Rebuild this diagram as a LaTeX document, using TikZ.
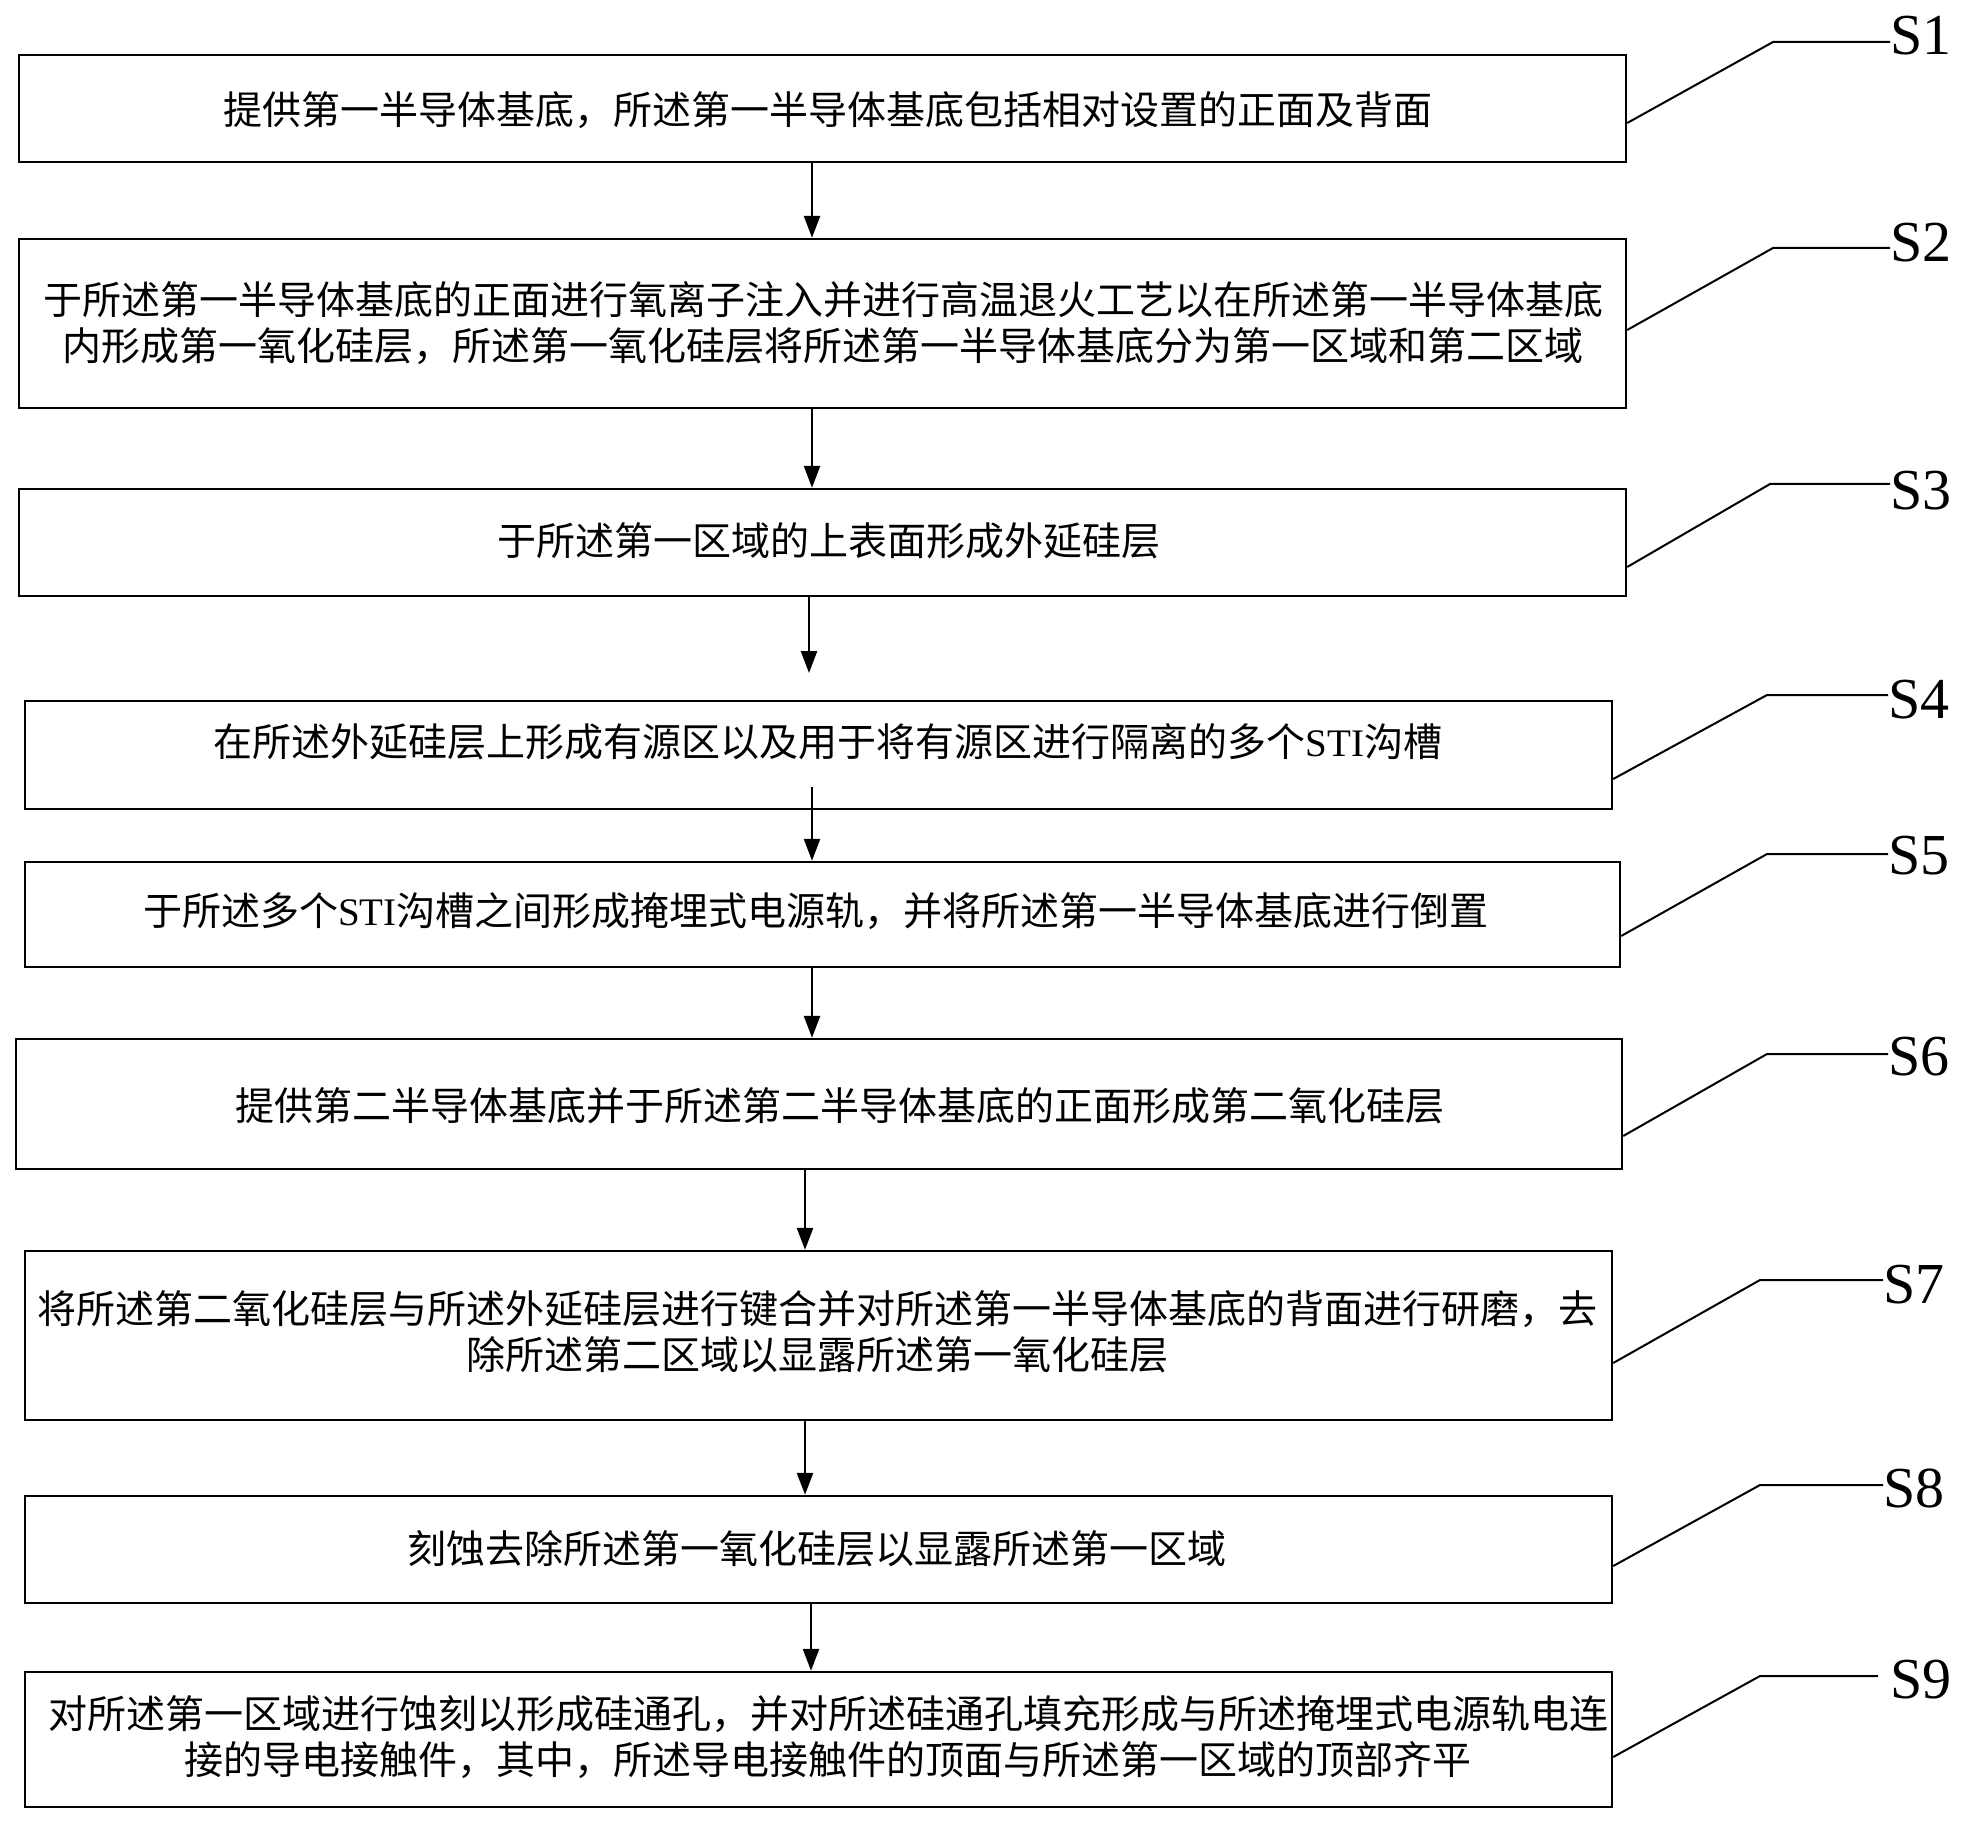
\documentclass[tikz,border=0pt]{standalone}
\usepackage{fontspec}
\setmainfont{Liberation Serif}
\newfontfamily\cjkfont{Noto Sans CJK SC}
\usetikzlibrary{arrows.meta}
\begin{document}
\begin{tikzpicture}[x=0.5pt,y=-0.5pt,
  box/.style={draw=black, line width=1.2pt, rectangle, inner sep=0pt},
  txt/.style={font=\cjkfont\fontsize{19.5pt}{23pt}\selectfont, align=center, inner sep=0pt},
  lab/.style={font=\fontsize{29pt}{29pt}\selectfont, inner sep=0pt, anchor=base west},
  lead/.style={line width=1pt},
  arr/.style={line width=1.3pt, -{Triangle[length=11pt,width=8pt]}}]
\useasboundingbox (0,0) rectangle (1968,1823);

% boxes
\node[box, minimum width=803.5pt, minimum height=53.5pt] (b1) at (822.5,108.5) {};
\node[box, minimum width=803.5pt, minimum height=84.5pt] (b2) at (822.5,323.5) {};
\node[box, minimum width=803.5pt, minimum height=53.5pt] (b3) at (822.5,542.5) {};
\node[box, minimum width=793.5pt, minimum height=54pt]   (b4) at (818.5,755) {};
\node[box, minimum width=797.5pt, minimum height=52.5pt] (b5) at (822.5,914.5) {};
\node[box, minimum width=803pt,   minimum height=65pt]   (b6) at (819,1104) {};
\node[box, minimum width=793.5pt, minimum height=84.5pt] (b7) at (818.5,1335.5) {};
\node[box, minimum width=793.5pt, minimum height=53.5pt] (b8) at (818.5,1549.5) {};
\node[box, minimum width=793.5pt, minimum height=67.5pt] (b9) at (818.5,1739.5) {};

% texts
\node[txt] (t1) at (828,110) {提供第一半导体基底，所述第一半导体基底包括相对设置的正面及背面};
\node[txt] (t2) at (823,323) {于所述第一半导体基底的正面进行氧离子注入并进行高温退火工艺以在所述第一半导体基底\\内形成第一氧化硅层，所述第一氧化硅层将所述第一半导体基底分为第一区域和第二区域};
\node[txt] (t3) at (829,541) {于所述第一区域的上表面形成外延硅层};
\node[txt] (t4) at (828,742) {在所述外延硅层上形成有源区以及用于将有源区进行隔离的多个{\rmfamily STI}沟槽};
\node[txt] (t5) at (816,911) {于所述多个{\rmfamily STI}沟槽之间形成掩埋式电源轨，并将所述第一半导体基底进行倒置};
\node[txt] (t6) at (840,1106) {提供第二半导体基底并于所述第二半导体基底的正面形成第二氧化硅层};
\node[txt] (t7) at (817,1332) {将所述第二氧化硅层与所述外延硅层进行键合并对所述第一半导体基底的背面进行研磨，去\\除所述第二区域以显露所述第一氧化硅层};
\node[txt] (t8) at (817,1549) {刻蚀去除所述第一氧化硅层以显露所述第一区域};
\node[txt] (t9) at (828,1737) {对所述第一区域进行蚀刻以形成硅通孔，并对所述硅通孔填充形成与所述掩埋式电源轨电连\\接的导电接触件，其中，所述导电接触件的顶面与所述第一区域的顶部齐平};

% arrows
\coordinate (e34) at (809,673);
\coordinate (s45) at (812,787);
\draw[arr] (b1.south -| 812,0) -- (b2.north -| 812,0);
\draw[arr] (b2.south -| 812,0) -- (b3.north -| 812,0);
\draw[arr] (b3.south -| e34) -- (e34);
\draw[arr] (s45) -- (b5.north -| s45);
\draw[arr] (b5.south -| 812,0) -- (b6.north -| 812,0);
\draw[arr] (b6.south -| 805,0) -- (b7.north -| 805,0);
\draw[arr] (b7.south -| 805,0) -- (b8.north -| 805,0);
\draw[arr] (b8.south -| 811,0) -- (b9.north -| 811,0);

% step labels
\node[lab] (l1) at (1890,55) {S1};
\node[lab] (l2) at (1890,262) {S2};
\node[lab] (l3) at (1890,510) {S3};
\node[lab] (l4) at (1888,718) {S4};
\node[lab] (l5) at (1888,874) {S5};
\node[lab] (l6) at (1888,1075) {S6};
\node[lab] (l7) at (1883,1303) {S7};
\node[lab] (l8) at (1883,1507) {S8};
\node[lab] (l9) at (1890,1698) {S9};

% leader corners
\coordinate (c1) at (1773,42);
\coordinate (c2) at (1773,248);
\coordinate (c3) at (1770,484);
\coordinate (c4) at (1767,695);
\coordinate (c5) at (1767,854);
\coordinate (c6) at (1767,1054);
\coordinate (c7) at (1760,1280);
\coordinate (c8) at (1760,1485);
\coordinate (c9) at (1760,1676);

\draw[lead] (b1.east |- 0,123)  -- (c1) -- (l1.west |- c1);
\draw[lead] (b2.east |- 0,330)  -- (c2) -- (l2.west |- c2);
\draw[lead] (b3.east |- 0,567)  -- (c3) -- (l3.west |- c3);
\draw[lead] (b4.east |- 0,779)  -- (c4) -- (l4.west |- c4);
\draw[lead] (b5.east |- 0,936)  -- (c5) -- (l5.west |- c5);
\draw[lead] (b6.east |- 0,1136) -- (c6) -- (l6.west |- c6);
\draw[lead] (b7.east |- 0,1363) -- (c7) -- (l7.west |- c7);
\draw[lead] (b8.east |- 0,1566) -- (c8) -- (l8.west |- c8);
\draw[lead] (b9.east |- 0,1757) -- (c9) -- ([xshift=-6pt]l9.west |- c9);
\end{tikzpicture}
\end{document}
